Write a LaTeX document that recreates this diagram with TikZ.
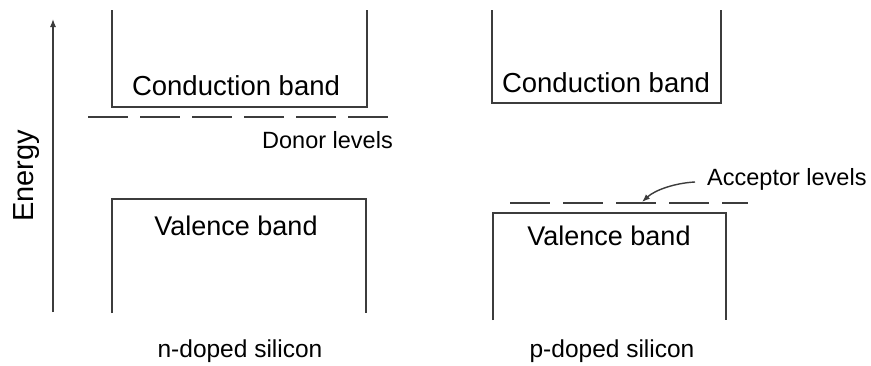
\documentclass[tikz,border=0pt]{standalone}
\usepackage{fontspec}
\setmainfont{Liberation Sans}
\usetikzlibrary{arrows.meta}
\definecolor{ln}{HTML}{3C3C3C}
\tikzset{
  bandline/.style={draw=ln, line width=1.6pt},
  lvl/.style={draw=ln, line width=1.4pt, dash pattern=on 40pt off 12pt},
  lbl/.style={inner sep=0pt, anchor=base, text=black},
}
\newcommand{\fs}[1]{\fontsize{#1}{#1}\selectfont}
\begin{document}
\begin{tikzpicture}[x=1pt,y=-1pt]
\useasboundingbox (0,0) rectangle (871,365);
\fill[white] (0,0) rectangle (871,365);
% energy axis
\coordinate (eb) at (53,312);
\coordinate (et) at (53,19);
\draw[draw=ln, line width=1.2pt, -{Latex[length=8pt,width=6pt]}] (eb) -- (et);
\node[lbl, rotate=90] (energy) at (33,176) {\fs{29}Energy};
% n-doped
\draw[bandline] (112,10) -- (112,107) -- (367,107) -- (367,10);
\node[lbl] (cbn) at (236,95) {\fs{27.5}Conduction band};
\draw[lvl] (88,117) -- (390,117);
\node[lbl, anchor=base west] (donor) at (262,148) {\fs{23.5}Donor levels};
\draw[bandline] (112,313) -- (112,199) -- (366,199) -- (366,313);
\node[lbl] (vbn) at (236,235) {\fs{27}Valence band};
\node[lbl] (nlab) at (240,357) {\fs{24.5}n-doped silicon};
% p-doped
\draw[bandline] (492,10) -- (492,103) -- (721,103) -- (721,10);
\node[lbl] (cbp) at (606,92) {\fs{27.5}Conduction band};
\draw[lvl, dash pattern=on 40pt off 13pt] (510,203) -- (748,203);
\node[lbl, anchor=base west] (acc) at (707,185) {\fs{23.5}Acceptor levels};
\draw[bandline] (493,320) -- (493,213) -- (726,213) -- (726,320);
\node[lbl] (vbp) at (609,245) {\fs{27}Valence band};
\node[lbl] (plab) at (612,357) {\fs{24.5}p-doped silicon};
% acceptor arrow
\coordinate (acct) at (642,202);
\draw[draw=ln, line width=1.4pt, -{Latex[length=8pt,width=6pt]}]
  ([xshift=-12pt,yshift=3pt]acc.base west) .. controls (675,183) and (655,190) .. (acct);
\end{tikzpicture}
\end{document}
